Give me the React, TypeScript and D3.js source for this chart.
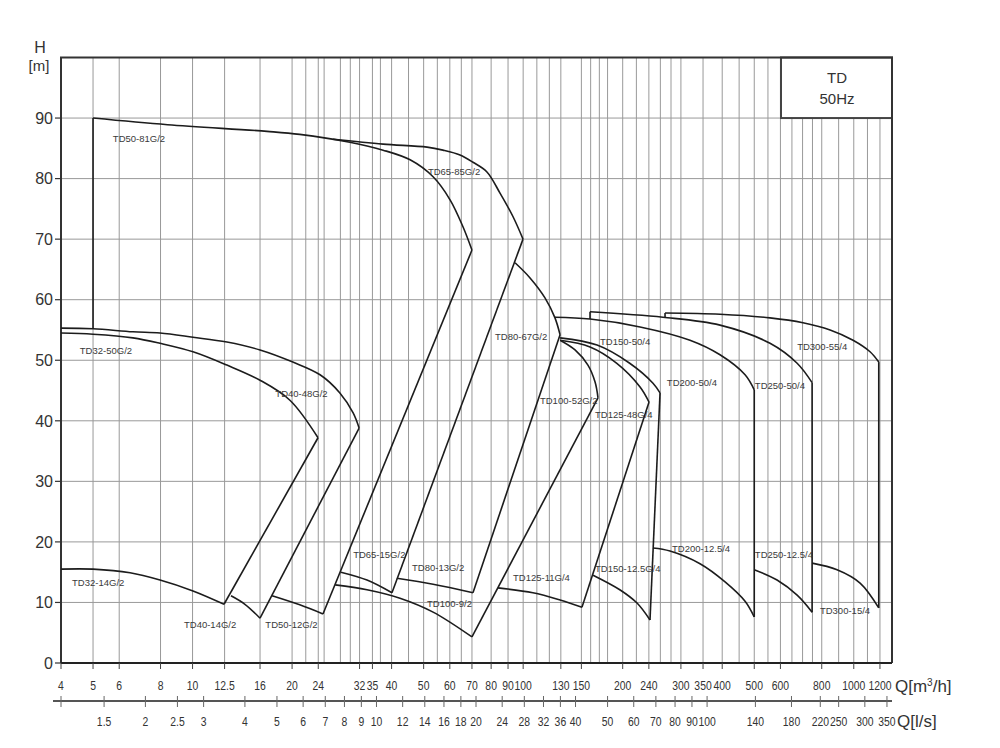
import React from 'react';
import * as d3 from 'd3';

type Pt = [number, number];

// ---- axis data ----
const qTicksM3h = [4, 5, 6, 8, 10, 12.5, 16, 20, 24, 32, 35, 40, 50, 60, 70, 80, 90, 100, 130, 150, 200, 240, 300, 350, 400, 500, 600, 800, 1000, 1200];
const qTicksLs = [1.5, 2, 2.5, 3, 4, 5, 6, 7, 8, 9, 10, 12, 14, 16, 18, 20, 24, 28, 32, 36, 40, 50, 60, 70, 80, 90, 100, 140, 180, 220, 250, 300, 350];
const gridQ = [5, 6, 8, 10, 12.5, 16, 20, 22, 24, 25, 28, 30, 32, 35, 37, 40, 45, 50, 55, 60, 65, 70, 80, 90, 100, 110, 120, 130, 150, 160, 170, 180, 200, 220, 240, 260, 280, 300, 350, 400, 450, 500, 550, 600, 650, 700, 750, 800, 900, 1000, 1100, 1200];
const hTicks = [0, 10, 20, 30, 40, 50, 60, 70, 80, 90];
const hGrid = [10, 20, 30, 40, 50, 60, 70, 80, 90];

// ---- pump curves (Q m3/h, H m) ----
const td32_50: Pt[] = [[4, 54.5], [5, 54.3], [6.6, 53.7], [7.97, 52.8], [10.03, 51.4], [12.7, 49.2], [16, 46.7], [19.7, 43.4], [23.96, 37.2]];
const td32_14: Pt[] = [[4, 15.5], [5, 15.5], [6.47, 14.9], [7.97, 13.7], [10.03, 11.9], [12.45, 9.7]];
const td40_48: Pt[] = [[4, 55.3], [5, 55.2], [6.6, 54.7], [7.97, 54.5], [10.03, 53.8], [12.7, 53.0], [16, 51.7], [20.1, 49.7], [24.3, 47.6], [27.9, 44.6], [30.6, 41.3], [31.9, 38.8]];
const td40_14: Pt[] = [[13.07, 11.1], [14.4, 9.7], [16, 7.4]];
const td50_81: Pt[] = [[5, 90], [8.4, 88.9], [16.8, 87.8], [21.1, 87.3], [29.9, 86.0], [37.7, 84.7], [45.5, 83.1], [53.4, 80.3], [60.1, 76.5], [65.8, 72.0], [70, 68.2]];
const td50_12: Pt[] = [[17.4, 11.1], [21.1, 9.6], [24.8, 8.1]];
const td65_85: Pt[] = [[26.6, 86.5], [37.7, 85.7], [51.2, 85.2], [57.2, 84.7], [64.4, 83.9], [70.5, 82.7], [77.7, 81.1], [85.1, 77.6], [93.2, 73.7], [99.9, 70.0]];
const td65_15: Pt[] = [[28.1, 15.0], [33.7, 13.7], [40.1, 11.6]];
const td80_67: Pt[] = [[94.5, 66.1], [104.9, 63.6], [116.4, 60.3], [124.8, 57.0], [129.3, 54.2]];
const td80_13: Pt[] = [[41.5, 14.0], [53.4, 13.0], [70.5, 11.6]];
const td100_52: Pt[] = [[129.3, 53.3], [143.5, 51.7], [157, 49.2], [165, 46.4], [168.4, 43.8]];
const td100_9: Pt[] = [[27.0, 12.9], [33.7, 12.1], [42.4, 10.7], [53.4, 8.4], [70, 4.3]];
const td125_48: Pt[] = [[129.3, 53.3], [159.3, 52.2], [192, 49.5], [225.7, 45.6], [240.3, 43.1]];
const td125_11: Pt[] = [[83.9, 12.4], [107, 11.6], [129.3, 10.4], [150.6, 9.2]];
const td150_50: Pt[] = [[129.3, 53.7], [167.3, 52.5], [210, 49.5], [247, 46.2], [259.4, 44.6]];
const td150_125: Pt[] = [[162.7, 14.5], [196, 12.1], [221, 9.9], [241.9, 7.1]];
const td200_50: Pt[] = [[124.8, 57.1], [159.3, 56.8], [225.7, 55.5], [319.6, 53.3], [393.9, 50.9], [469, 47.6], [500, 45.1]];
const td200_125: Pt[] = [[247, 19.0], [278, 18.5], [342.7, 16.4], [408, 13.4], [469, 10.2], [500, 7.6]];
const td250_50: Pt[] = [[159.3, 58.0], [264.8, 57.1], [393.9, 55.8], [558, 52.8], [674, 49.5], [748, 46.3]];
const td250_125: Pt[] = [[500, 15.4], [586, 13.7], [674, 11.2], [748, 8.4]];
const td300_55: Pt[] = [[268.6, 57.8], [393.9, 57.6], [558, 57.0], [702, 56.2], [848, 55.0], [995, 53.3], [1120, 51.4], [1190, 49.7]];
const td300_15: Pt[] = [[748, 16.5], [890, 15.4], [1045, 13.2], [1190, 9.1]];

// families: top curve, bottom curve, optional left-edge base head
const families: { top: Pt[]; bottom: Pt[]; leftBase?: number }[] = [
  { top: td32_50, bottom: td32_14 },
  { top: td40_48, bottom: td40_14 },
  { top: td50_81, bottom: td50_12, leftBase: 55.2 },
  { top: td65_85, bottom: td65_15 },
  { top: td80_67, bottom: td80_13 },
  { top: td100_52, bottom: td100_9 },
  { top: td125_48, bottom: td125_11 },
  { top: td150_50, bottom: td150_125 },
  { top: td200_50, bottom: td200_125 },
  { top: td250_50, bottom: td250_125, leftBase: 56.8 },
  { top: td300_55, bottom: td300_15, leftBase: 57.0 },
];

// labels: [text, Q, H] (left/baseline anchor)
const labels: [string, number, number][] = [
  ['TD50-81G/2', 5.74, 86.0],
  ['TD65-85G/2', 51.5, 80.6],
  ['TD32-50G/2', 4.56, 51.0],
  ['TD40-48G/2', 17.8, 43.9],
  ['TD32-14G/2', 4.32, 12.7],
  ['TD40-14G/2', 9.42, 5.8],
  ['TD50-12G/2', 16.6, 5.8],
  ['TD65-15G/2', 30.6, 17.3],
  ['TD80-13G/2', 46.1, 15.2],
  ['TD100-9/2', 51.2, 9.2],
  ['TD80-67G/2', 82.2, 53.3],
  ['TD100-52G/2', 112.4, 42.8],
  ['TD125-48G/4', 165, 40.5],
  ['TD150-50/4', 170.8, 52.5],
  ['TD200-50/4', 272, 45.7],
  ['TD250-50/4', 502, 45.3],
  ['TD300-55/4', 674, 51.7],
  ['TD125-11G/4', 93.2, 13.5],
  ['TD150-12.5G/4', 165, 15.0],
  ['TD200-12.5/4', 282, 18.3],
  ['TD250-12.5/4', 502, 17.3],
  ['TD300-15/4', 790, 8.1],
];

const LS_TO_M3H = 3.6;
const FONT = 'Liberation Sans, Arial, sans-serif';

export default function App() {
  const x = d3.scaleLog().domain([4, 1305]).range([61, 892]);
  const y = d3.scaleLinear().domain([0, 100]).range([663, 57.5]);
  const line = d3.line<Pt>().x((d) => x(d[0])).y((d) => y(d[1])).curve(d3.curveCatmullRom.alpha(0.5));
  const seg = d3.line<Pt>().x((d) => x(d[0])).y((d) => y(d[1]));
  const xL = x.range()[0];
  const xR = x.range()[1];
  const yB = y(0);
  const yT = y(100);
  const ax2 = 701;
  const curveColor = '#1c1c1c';
  const gridColor = '#999';

  const narrow = (key: string, tx: number, ty: number, s: string | number) => (
    <text key={key} transform={`translate(${tx},${ty}) scale(0.8,1)`} textAnchor="middle" fontFamily={FONT} fontSize={13} fill="#333">{s}</text>
  );

  return (
    <svg width={1000} height={748} style={{ position: 'absolute', left: 0, top: 0, background: '#fff' }}>
      <rect x={0} y={0} width={1000} height={748} fill="#fff" />
      {/* grid */}
      {gridQ.map((q) => (
        <line key={'gx' + q} x1={x(q)} x2={x(q)} y1={yT} y2={yB} stroke={gridColor} strokeWidth={1} />
      ))}
      {hGrid.map((h) => (
        <line key={'gy' + h} x1={xL} x2={xR} y1={y(h)} y2={y(h)} stroke={gridColor} strokeWidth={1} />
      ))}
      {/* title box */}
      <rect x={781} y={yT} width={xR - 781} height={y(90) - yT} fill="#fff" stroke="#444" strokeWidth={2} />
      <text x={837} y={83} textAnchor="middle" fontFamily={FONT} fontSize={15} fill="#333">TD</text>
      <text x={837} y={104} textAnchor="middle" fontFamily={FONT} fontSize={15} fill="#333">50Hz</text>
      {/* frame */}
      <path d={`M${xL},${yB} V${yT} H${xR} V${yB}`} fill="none" stroke="#333" strokeWidth={2} />
      <line x1={xL} x2={xR} y1={yB} y2={yB} stroke="#222" strokeWidth={2} />
      {/* curves */}
      {families.map((f, i) => {
        const tEnd = f.top[f.top.length - 1];
        const bEnd = f.bottom[f.bottom.length - 1];
        return (
          <g key={'f' + i} fill="none" stroke={curveColor} strokeWidth={1.6} strokeLinejoin="round">
            <path d={line(f.top) || ''} />
            <path d={line(f.bottom) || ''} />
            <path d={seg([tEnd, bEnd]) || ''} />
            {f.leftBase !== undefined && <path d={seg([[f.top[0][0], f.leftBase], f.top[0]]) || ''} />}
          </g>
        );
      })}
      {/* labels */}
      {labels.map(([t, q, h]) => (
        <text key={t} x={x(q)} y={y(h)} fontFamily={FONT} fontSize={9.5} fill="#3a3a3a">{t}</text>
      ))}
      {/* y axis */}
      {hTicks.map((h) => (
        <g key={'yt' + h}>
          <line x1={xL - 6} x2={xL} y1={y(h)} y2={y(h)} stroke="#333" strokeWidth={1.2} />
          <text x={xL - 8} y={y(h)} dy="0.36em" textAnchor="end" fontFamily={FONT} fontSize={16} fill="#333">{h}</text>
        </g>
      ))}
      <text x={40} y={53} textAnchor="middle" fontFamily={FONT} fontSize={16} fill="#333">H</text>
      <text x={39} y={71} textAnchor="middle" fontFamily={FONT} fontSize={15} fill="#333">[m]</text>
      {/* x axis m3/h */}
      {qTicksM3h.map((q) => (
        <line key={'xt' + q} x1={x(q)} x2={x(q)} y1={yB} y2={yB + 6} stroke="#444" strokeWidth={1} />
      ))}
      {qTicksM3h.map((q) => narrow('xl' + q, x(q), 690, q))}
      <text x={895} y={692} fontFamily={FONT} fontSize={17} fill="#333">
        Q[m<tspan dy={-6} fontSize={10}>3</tspan><tspan dy={6}>/h]</tspan>
      </text>
      {/* x axis l/s */}
      <line x1={53} x2={xR} y1={ax2} y2={ax2} stroke="#555" strokeWidth={2} />
      {[4 / LS_TO_M3H, ...qTicksLs].map((v) => (
        <line key={'lt' + v} x1={x(v * LS_TO_M3H)} x2={x(v * LS_TO_M3H)} y1={ax2 - 5} y2={ax2 + 6} stroke="#666" strokeWidth={1} />
      ))}
      {qTicksLs.map((v) => narrow('ll' + v, x(v * LS_TO_M3H), 726, v))}
      <text x={897} y={727} fontFamily={FONT} fontSize={17} fill="#333">Q[l/s]</text>
    </svg>
  );
}
